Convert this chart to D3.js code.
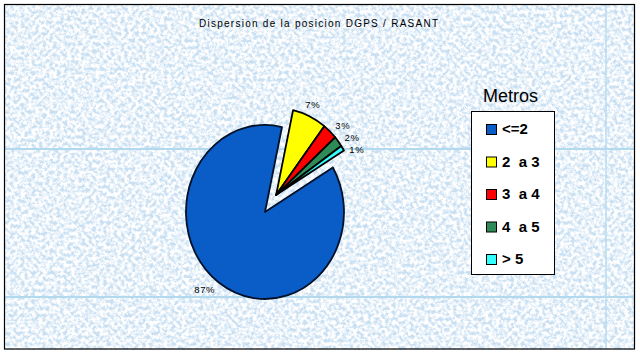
<!DOCTYPE html>
<html><head><meta charset="utf-8">
<script src="https://cdn.jsdelivr.net/npm/d3@7"></script>
<style>body{margin:0;background:#fff}svg{display:block}text{font-family:Arial,"Liberation Sans",sans-serif}</style>
</head><body><svg id="c" width="640" height="355"></svg>
<script>
const title = "Dispersion de la posicion DGPS / RASANT";
const legendTitle = "Metros";
const categories = ["<=2", "2  a 3", "3  a 4", "4  a 5", "> 5"];
const values = [87, 7, 3, 2, 1];
const labels = ["87%", "7%", "3%", "2%", "1%"];
const colors = ["#0a5cc6", "#ffff00", "#ff0000", "#2e8b57", "#33ffff"];

const W = 640, H = 355;
const svg = d3.select("#c");
const defs = svg.append("defs");
const f = defs.append("filter").attr("id","tex").attr("x",0).attr("y",0).attr("width","100%").attr("height","100%");
f.append("feTurbulence").attr("type","fractalNoise").attr("baseFrequency","0.28").attr("numOctaves",3).attr("seed",7);
f.append("feColorMatrix").attr("type","matrix")
 .attr("values","0 0 0 0 1  0 0 0 0 1  0 0 0 0 1  3.2 0 0 0 -1.0");

// background
svg.append("rect").attr("x",4).attr("y",4).attr("width",631).attr("height",346).attr("fill","#c8dff2");
svg.append("rect").attr("x",4).attr("y",4).attr("width",631).attr("height",346).attr("fill","#f4f9fd").attr("filter","url(#tex)");
// tile seams
const seamY = [149, 297], seamX = [606];
svg.selectAll("line.sy").data(seamY).join("line").attr("x1",5).attr("x2",634).attr("y1",d=>d).attr("y2",d=>d)
 .attr("stroke","#b3d9ee").attr("stroke-width",2);
svg.selectAll("line.sx").data(seamX).join("line").attr("y1",5).attr("y2",349).attr("x1",d=>d).attr("x2",d=>d)
 .attr("stroke","#b8dcef").attr("stroke-width",1.5);
svg.append("rect").attr("x",4.5).attr("y",4.5).attr("width",630).attr("height",344.5)
 .attr("fill","none").attr("stroke","#000").attr("stroke-width",1.2);

// title
svg.append("text").attr("x",199).attr("y",27).attr("font-size",10).attr("textLength",239)
 .attr("lengthAdjust","spacing").attr("fill","#000").text(title);

// pie
const cx = 265, cy = 212, rx = 79, ry = 87;
const deg = Math.PI/180;
const start = 59.2*deg;
const pie = d3.pie().sort(null).startAngle(start).endAngle(start + 2*Math.PI);
const arcs = pie(values);
const arc = d3.arc().innerRadius(0).outerRadius(1);
const gStart = arcs[1].startAngle, gEnd = arcs[arcs.length-1].endAngle;
const gMid = (gStart + gEnd)/2, ex = 0.24;
const off = [Math.sin(gMid)*rx*ex, -Math.cos(gMid)*ry*ex];

const pg = svg.append("g");
arcs.forEach((a,i)=>{
  const dx = i===0?0:off[0], dy = i===0?0:off[1];
  pg.append("path").attr("d", arc(a))
   .attr("transform",`translate(${cx+dx},${cy+dy}) scale(${rx},${ry})`)
   .attr("fill", colors[i]).attr("stroke", i===0?"#001028":"#000")
   .attr("stroke-width", i===0?1.8:1.8).attr("vector-effect","non-scaling-stroke")
   .attr("stroke-linejoin","round");
});

// labels
let prevBase = -Infinity;
arcs.forEach((a,i)=>{
  const m = (a.startAngle + a.endAngle)/2, k = 1.1;
  const dx = i===0?0:off[0], dy = i===0?0:off[1];
  const x = cx + dx + Math.sin(m)*rx*k, y = cy + dy - Math.cos(m)*ry*k;
  const s = Math.sin(m);
  const anchor = s > 0.5 ? "start" : (s < -0.5 ? "end" : "middle");
  let base = anchor === "middle" ? y : y + 3.5;
  if (i>1) base = Math.max(base, prevBase + 12);
  prevBase = base;
  svg.append("text").attr("x", anchor==="end"? x+1 : x).attr("y", base).attr("text-anchor", anchor)
   .attr("font-size",9.5).attr("letter-spacing",0.6).attr("fill","#000").text(labels[i]);
});

// legend
svg.append("text").attr("x",483).attr("y",102).attr("font-size",18).attr("fill","#000").text(legendTitle);
svg.append("rect").attr("x",471.5).attr("y",111.5).attr("width",83).attr("height",163)
 .attr("fill","#fff").attr("stroke","#000").attr("stroke-width",1);
const ly = d3.scalePoint().domain(d3.range(categories.length)).range([130, 260]);
categories.forEach((c,i)=>{
  svg.append("rect").attr("x",486.5).attr("y",ly(i)-5.5).attr("width",10).attr("height",10)
   .attr("fill",colors[i]).attr("stroke","#000").attr("stroke-width",1);
  svg.append("text").attr("x",502).attr("y",ly(i)+4).attr("font-size",15).attr("font-weight","bold")
   .attr("fill","#000").style("white-space","pre").text(c);
});
</script></body></html>
